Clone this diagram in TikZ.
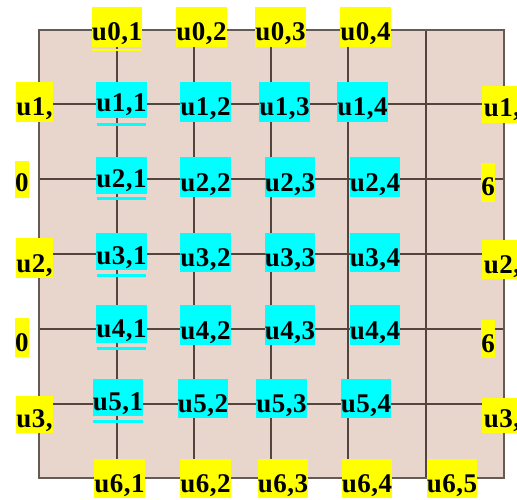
\documentclass[tikz,border=0pt]{standalone}
\usepackage{fontspec}
\setmainfont{Liberation Serif}
\newfontfamily\labfont[LetterSpace=2]{Liberation Serif}
\definecolor{cellfill}{HTML}{E8D5CB}
\definecolor{gridc}{HTML}{54443D}
\definecolor{borderc}{HTML}{655B56}
\definecolor{ylab}{HTML}{FFFF00}
\definecolor{clab}{HTML}{00FFFF}
\tikzset{
  labbox/.style={rectangle, inner sep=0pt, text depth=6pt, font=\labfont\bfseries\fontsize{27}{27}\selectfont, text=black},
  gridline/.style={draw=gridc, line width=2pt},
  ulinec/.style={fill=clab, draw=none},
  uliney/.style={fill=ylab, draw=none},
}
\newcommand\ulab[7]{%
  \pgfmathsetmacro\lw{#4-#3}%
  \pgfmathsetmacro\lh{#6-#5-6}%
  \pgfmathsetmacro\lx{(#3+#4)/2}%
  \pgfmathsetmacro\ly{(#5+#6)/2}%
  \node[labbox, fill=#2, minimum width=\lw pt, text height=\lh pt] (#1) at (\lx,\ly) {#7};%
}
\begin{document}
\begin{tikzpicture}[x=1pt, y=-1pt]
\useasboundingbox (0,0) rectangle (517,500);
\fill[white] (0,0) rectangle (517,500);
% board
\fill[cellfill] (39,30) rectangle (504,478);
\foreach \x in {117,194,271,348,426} \draw[gridline] (\x,30) -- (\x,478);
\foreach \y in {104,179,254,329,404} \draw[gridline] (39,\y) -- (504,\y);
\draw[draw=borderc, line width=2.4pt] (39,30) rectangle (504,478);
% underlines
\fill[uliney] (92,49) rectangle (142,51);
\fill[ulinec] (97,123) rectangle (146,126);
\fill[ulinec] (97,197) rectangle (146,200);
\fill[ulinec] (97,274) rectangle (146,277);
\fill[ulinec] (97,347) rectangle (146,350);
\fill[ulinec] (93,420) rectangle (143,423);
% top row
\ulab{u01}{ylab}{92}{142}{7}{47}{u0,1}
\ulab{u02}{ylab}{177}{226}{7}{47}{u0,2}
\ulab{u03}{ylab}{256}{305}{7}{47}{u0,3}
\ulab{u04}{ylab}{341}{390}{7}{47}{u0,4}
% row 1
\ulab{l1}{ylab}{16}{53}{82}{122}{u1,}
\ulab{u11}{clab}{97}{146}{82}{118}{u1,1}
\ulab{u12}{clab}{181}{230}{82}{122}{u1,2}
\ulab{u13}{clab}{260}{309}{82}{122}{u1,3}
\ulab{u14}{clab}{338}{387}{82}{122}{u1,4}
\ulab{r1}{ylab}{482}{522}{86}{123}{u1,}
% row 2
\ulab{l2}{ylab}{17}{27}{161}{198}{0}
\ulab{u21}{clab}{97}{146}{157}{194}{u2,1}
\ulab{u22}{clab}{181}{230}{157}{197}{u2,2}
\ulab{u23}{clab}{265}{315}{157}{197}{u2,3}
\ulab{u24}{clab}{350}{400}{157}{197}{u2,4}
\ulab{r2}{ylab}{482}{494}{163}{202}{6}
% row 3
\ulab{l3}{ylab}{16}{53}{238}{278}{u2,}
\ulab{u31}{clab}{97}{146}{233}{270}{u3,1}
\ulab{u32}{clab}{181}{230}{233}{272}{u3,2}
\ulab{u33}{clab}{265}{315}{233}{272}{u3,3}
\ulab{u34}{clab}{350}{400}{233}{272}{u3,4}
\ulab{r3}{ylab}{482}{522}{240}{279}{u2,}
% row 4
\ulab{l4}{ylab}{17}{27}{318}{357}{0}
\ulab{u41}{clab}{97}{146}{305}{343}{u4,1}
\ulab{u42}{clab}{181}{230}{305}{345}{u4,2}
\ulab{u43}{clab}{265}{315}{305}{345}{u4,3}
\ulab{u44}{clab}{350}{400}{305}{345}{u4,4}
\ulab{r4}{ylab}{482}{494}{320}{358}{6}
% row 5
\ulab{l5}{ylab}{16}{53}{396}{433}{u3,}
\ulab{u51}{clab}{93}{143}{379}{416}{u5,1}
\ulab{u52}{clab}{178}{228}{379}{418}{u5,2}
\ulab{u53}{clab}{257}{306}{379}{418}{u5,3}
\ulab{u54}{clab}{341}{391}{379}{418}{u5,4}
\ulab{r5}{ylab}{482}{522}{398}{433}{u3,}
% bottom row
\ulab{u61}{ylab}{95}{144}{459}{498}{u6,1}
\ulab{u62}{ylab}{181}{230}{459}{498}{u6,2}
\ulab{u63}{ylab}{259}{307}{459}{498}{u6,3}
\ulab{u64}{ylab}{343}{391}{459}{498}{u6,4}
\ulab{u65}{ylab}{428}{476}{459}{498}{u6,5}
\end{tikzpicture}
\end{document}
